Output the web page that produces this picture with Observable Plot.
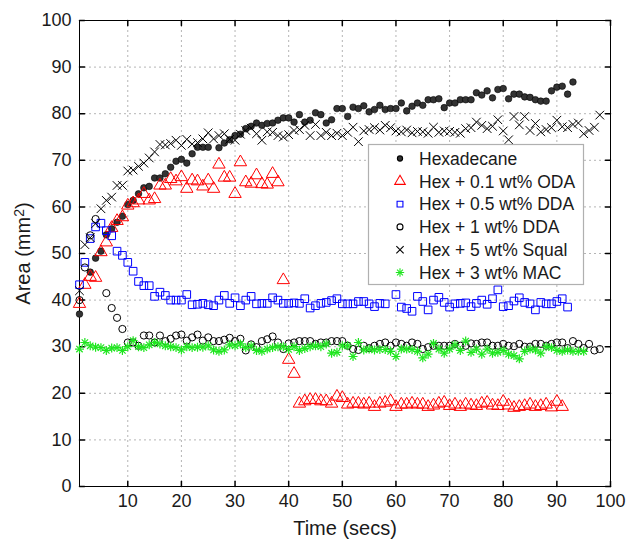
<!DOCTYPE html>
<html><head><meta charset="utf-8">
<script src="https://cdn.jsdelivr.net/npm/d3@7"></script>
<script src="https://cdn.jsdelivr.net/npm/@observablehq/plot@0.6"></script>
<style>body{margin:0;background:#fff;}</style>
</head><body><div id="chart"></div>
<script>
// Tick labels
const xTicks = [10,20,30,40,50,60,70,80,90,100];
const yTicks = [0,10,20,30,40,50,60,70,80,90,100];

// Series names (legend order)
const seriesNames = ["Hexadecane","Hex + 0.1 wt% ODA","Hex + 0.5 wt% DDA","Hex + 1 wt% DDA","Hex + 5 wt% Squal","Hex + 3 wt% MAC"];

// Values sampled once per second, starting at t = 1 s (null = no visible point)
const hexadecane = [37,null,46,49,50.5,54,55.3,56.7,58,60.5,
 61.4,62.8,64.1,64.4,66.2,66.2,67.1,68.5,69.8,70.2,
 69.4,71.4,72.8,72.8,72.8,null,72.7,73.7,74.4,75.3,
 75.6,76.8,77.3,78,77.5,77.9,78,78.6,79.1,79.1,
 78.2,79.8,78.2,78.6,80.2,79.8,78,78.7,81.1,81.1,
 79.4,81.4,81.1,81.7,80.4,80.9,81.8,80.9,81.1,81.1,
 82.3,80.6,81.6,82.3,81.8,83,83,83.2,81.3,82.3,
 82.3,83,83,83,84.5,84,84.9,83.4,85.2,85.4,
 83.2,84.2,84.2,83.6,83.5,83,82.7,82.7,84.9,85.7,
 85.9,84.2,86.8];

const oda01 = [39.2,43.3,45,44.8,50.3,52.4,55.5,57,57.8,60.3,
 60.8,61.4,62.8,61.4,61.7,64.6,64.6,66,65.5,66.4,
 63.9,65.7,65.5,64.4,65.7,63.9,69.1,66.3,66.3,62.8,
 69.6,65.3,65,66.8,64.9,64.8,67.1,65.3,44.3,27.2,
 24.2,17.8,18.3,18.6,18.6,18.3,18.3,17.8,19.3,19,
 17.6,17.8,17.8,17.6,17.8,17.1,17.8,18,18.3,17.1,
 17.6,17.6,17.8,17.6,17.6,17.1,17.4,17.8,18,17.3,
 17.6,17.1,17.6,17.4,17.3,17.8,18,17.4,17.3,18.2,
 17.4,16.9,17.1,17.3,17.6,17.1,17.3,17.6,17,18.2,17.1];

const dda05 = [43.3,48.1,53.2,55.7,56.5,54.9,53.8,50.5,49.6,48.1,
 46.2,44,43.1,43.1,40.8,41.7,41,40,40,40,
 41.2,39,39.1,39.3,39,38.8,40,41,39.3,40.5,
 38.8,40,40.8,39.2,39.3,39.3,40.5,40,39.3,39.3,
 39.4,39.3,40.3,38.3,38.8,39.3,39.5,39.9,40.3,39.2,
 39.2,39.2,39.7,39.7,39.2,38.6,39.3,39.2,null,41.2,
 38.5,38.2,37.6,40.8,39.7,37.9,40,40.6,39.5,38.5,
 39.2,39.3,39.4,38.6,39.3,40,39.1,40.3,42.2,38.6,
 38.8,39.8,40.5,39.5,39.2,37.9,39.5,39.2,39.2,39.7,
 40.3,38.5];

const dda1 = [40,47,53.9,57.4,null,41.5,38.3,36.2,33.8,30.9,
 30.9,30.2,32.4,32.4,30.9,32.4,31.2,31.7,32.4,32.6,
 31.3,32,32.6,31.3,32,31.2,31.2,31.5,31.9,31.2,
 31.7,29.2,30.5,29.9,31.2,31.6,32.2,30.9,29.5,30.7,
 30.9,31.2,31.2,31.2,30.6,30.9,30.9,31.2,31.2,31.2,
 30.2,29.5,29.3,30.2,29.7,30.2,30.6,30.9,30.2,30.9,
 30.6,30.2,30.9,30.6,29.5,29.9,30.2,30.2,30.2,30.2,
 30.6,30.2,30.2,30.7,30.6,30.9,30.9,30.2,30.2,30.6,
 30.2,30.1,30.6,30,30,30.6,30.6,30.2,30.6,30.9,
 30.9,29.7,31.2,30.6,29.7,30.6,29.2,29.5];

const squal5 = [42,51.9,53.4,56.4,59.6,61.4,62.1,64.6,64.6,67.7,
 67.9,68.7,69.4,70.5,71.8,73.4,73.3,73.6,74.3,73.2,
 74.5,73.5,73.8,74.6,75.9,74.6,75.3,75.7,74.5,74.3,
 75.6,76.4,76.9,75.7,74.3,76.1,76,75.3,75,75.5,
 76.4,76.6,77.5,75.3,77.7,75.3,76,75.3,75.8,75.3,
 76,77.1,74,76.3,76.6,77,76.5,77.5,77,76.3,
 76.1,76.5,75.9,76.2,76.1,75.8,77.1,76,76.3,76.2,
 76,75.8,76.8,77,78.2,77.5,76.8,77.3,78.7,76.3,
 74.4,79.4,77.6,79.4,76.4,77.9,76.1,76.6,77,78.6,
 77.2,77,77.7,78,75.7,76.4,77.1,79.7];

const mac3 = [29.5,30.9,30.2,29.9,29.8,29.2,29.7,29.8,29.2,30,
 31.3,30,29.8,30.4,30.9,30.6,30.2,30,29.8,29.3,
 30,29.8,29.9,29.9,30.2,29.3,29,29.3,30.4,30.2,
 30.6,29.8,30.2,29.2,29,29.5,29.8,30,30,29.4,
 30,29.2,29.6,30,30.2,30,30.6,28.6,28.8,30.2,
 30.2,27.9,30.9,29.3,29.5,29.3,29.4,29.4,29,27.9,
 29.5,29.5,29.4,29,27.6,28.4,30.7,29.5,28.6,29.5,
 30.4,29.2,31.2,28.8,29.5,28.4,29.5,28.6,28.8,29.2,
 28.4,28.1,27.4,29,29.5,29.3,28.6,30,29.8,29.2,
 29,29.3,29,29,29];

const pts = vals => vals.map((v, i) => ({t: i + 1, v})).filter(d => d.v != null);

const GREEN = "#1ee61e";
const tickShape = {draw(ctx, l) { ctx.moveTo(0, 0); ctx.lineTo(0, -l); }};
const gridStyle = {stroke: "#b5b5b5", strokeOpacity: 1, strokeDasharray: "2,3", strokeWidth: 1};
const font = "'Liberation Sans', Arial, Helvetica, sans-serif";

const chart = Plot.plot({
  width: 627, height: 541,
  marginLeft: 79, marginRight: 17, marginTop: 20, marginBottom: 55,
  style: {fontFamily: font, fontSize: "18px", background: "#fff", color: "#1a1a1a"},
  x: {domain: [1, 100]},
  y: {domain: [0, 100]},
  marks: [
    Plot.gridX(xTicks, gridStyle),
    Plot.gridY(yTicks, gridStyle),
    Plot.axisX(xTicks, {tickSize: 0, tickPadding: 8, label: null, fill: "#1a1a1a"}),
    Plot.axisY(yTicks, {tickSize: 0, tickPadding: 8, label: null, fill: "#1a1a1a"}),
    Plot.vector(xTicks, {x: d => d, frameAnchor: "bottom", length: 5, rotate: 0, anchor: "start", shape: tickShape, stroke: "black"}),
    Plot.vector(xTicks, {x: d => d, frameAnchor: "top", length: 5, rotate: 180, anchor: "start", shape: tickShape, stroke: "black"}),
    Plot.vector(yTicks, {y: d => d, frameAnchor: "left", length: 5, rotate: 90, anchor: "start", shape: tickShape, stroke: "black"}),
    Plot.vector(yTicks, {y: d => d, frameAnchor: "right", length: 5, rotate: 270, anchor: "start", shape: tickShape, stroke: "black"}),
    Plot.frame({stroke: "black", strokeWidth: 1}),
    Plot.dot(pts(hexadecane), {x: "t", y: "v", r: 3.3, fill: "#333", stroke: "#000", strokeWidth: 0.6}),
    Plot.dot(pts(oda01), {x: "t", y: "v", symbol: "triangle", r: 4.6, fill: "none", stroke: "#ff0000", strokeWidth: 1}),
    Plot.dot(pts(dda05), {x: "t", y: "v", symbol: "square", r: 4.3, fill: "none", stroke: "#0000ff", strokeWidth: 1}),
    Plot.dot(pts(dda1), {x: "t", y: "v", symbol: "circle", r: 3.6, fill: "none", stroke: "#000", strokeWidth: 1}),
    Plot.dot(pts(squal5), {x: "t", y: "v", symbol: "times", r: 4, fill: "none", stroke: "#000", strokeWidth: 1}),
    Plot.dot(pts(mac3), {x: "t", y: "v", symbol: "plus", r: 3, fill: "none", stroke: GREEN, strokeWidth: 1.2}),
    Plot.dot(pts(mac3), {x: "t", y: "v", symbol: "times", r: 3, fill: "none", stroke: GREEN, strokeWidth: 1.2}),
    Plot.text(["Time (secs)"], {text: d => d, frameAnchor: "bottom", textAnchor: "middle", lineAnchor: "middle", dy: 42, fontSize: 20, fill: "#1a1a1a"}),
    Plot.text(["Area (mm²)"], {text: d => d, frameAnchor: "left", textAnchor: "middle", lineAnchor: "middle", dx: -56, rotate: -90, fontSize: 20, fill: "#1a1a1a"})
  ]
});

const svg = d3.select(chart);

// Render the squared unit with a real superscript
svg.selectAll("text").filter(function() { return this.textContent === "Area (mm²)"; }).each(function() {
  const t = d3.select(this);
  t.text(null);
  t.append("tspan").text("Area (mm");
  t.append("tspan").attr("font-size", 14).attr("dy", "-0.45em").text("2");
  t.append("tspan").attr("dy", "0.32em").text(")");
});

// Legend box inside the plot area
const lg = svg.append("g");
lg.append("rect").attr("x", 368.5).attr("y", 144.5).attr("width", 215).attr("height", 140)
  .attr("fill", "#fff").attr("stroke", "#b0b0b0").attr("stroke-width", 1.2);
const legendSymbols = [
  {sym: d3.symbolCircle, size: Math.PI * 2.6 * 2.6, fill: "#333", stroke: "#000"},
  {sym: d3.symbolTriangle, size: Math.PI * 3.9 * 3.9, fill: "none", stroke: "#ff0000"},
  {sym: d3.symbolSquare, size: Math.PI * 3.3 * 3.3, fill: "none", stroke: "#0000ff"},
  {sym: d3.symbolCircle, size: Math.PI * 3 * 3, fill: "none", stroke: "#000"},
  {sym: d3.symbolTimes, size: Math.PI * 3.4 * 3.4, fill: "none", stroke: "#000"},
  {sym: [d3.symbolPlus, d3.symbolTimes], size: Math.PI * 2.8 * 2.8, fill: "none", stroke: GREEN}
];
seriesNames.forEach((name, i) => {
  const y = 158.5 + i * 22.8;
  const s = legendSymbols[i];
  const syms = Array.isArray(s.sym) ? s.sym : [s.sym];
  syms.forEach(sy => {
    lg.append("path").attr("d", d3.symbol(sy, s.size)()).attr("transform", `translate(400,${y})`)
      .attr("fill", s.fill).attr("stroke", s.stroke).attr("stroke-width", 1.1);
  });
  lg.append("text").attr("x", 419).attr("y", y).attr("dy", "0.36em")
    .attr("text-anchor", "start")
    .attr("font-size", 17.5).attr("font-family", font).attr("fill", "#1a1a1a").text(name);
});

document.getElementById("chart").appendChild(chart);
</script>
</body></html>
